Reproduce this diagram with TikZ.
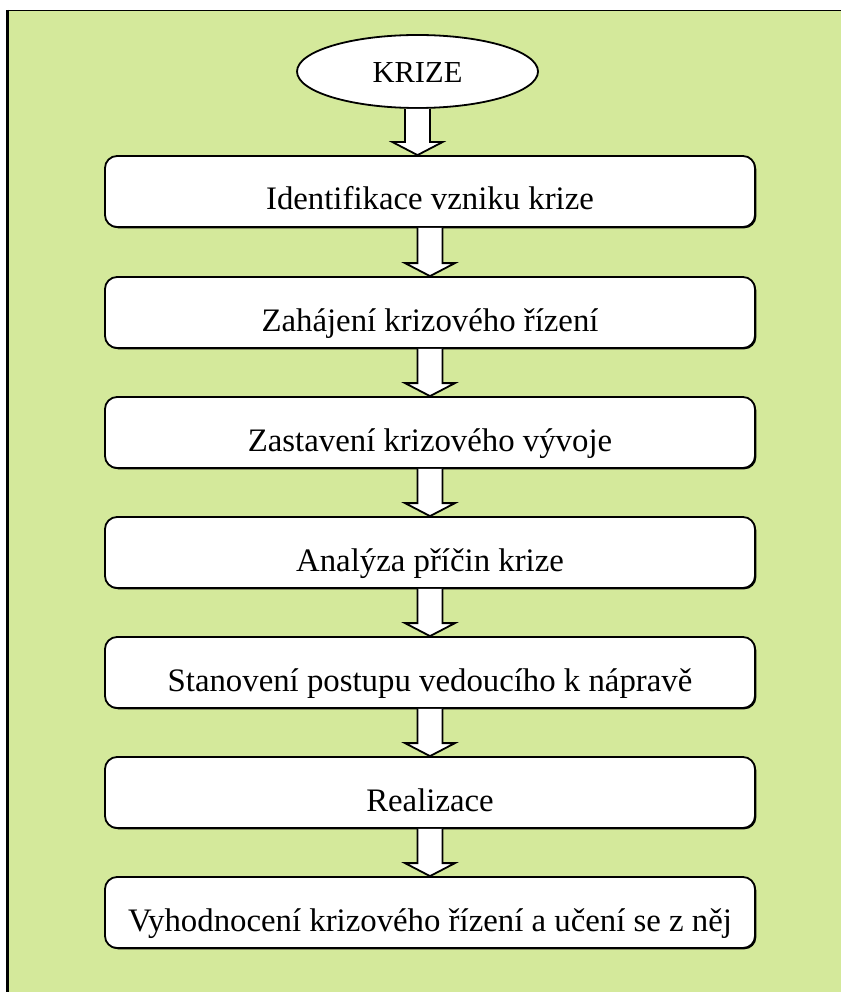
\documentclass[tikz,border=0pt]{standalone}
\usepackage{fontspec}
\setmainfont{Liberation Serif}
\usetikzlibrary{shapes.geometric,shadows,calc}

\definecolor{panelgreen}{RGB}{212,233,155}

\tikzset{
  stepbox/.style={draw=black, line width=1.8pt, fill=white, rounded corners=12pt,
    minimum width=650pt, minimum height=71pt, inner sep=0pt,
    text height=37pt, text depth=0pt,
    drop shadow={shadow xshift=1.3pt, shadow yshift=-1.3pt, fill=black, opacity=1},
    font=\fontsize{32.8}{38}\selectfont},
  startoval/.style={ellipse, draw=black, line width=1.8pt, fill=white,
    minimum width=241pt, minimum height=73pt, inner sep=0pt,
    text height=23pt, text depth=0pt,
    font=\fontsize{30.5}{36}\selectfont},
  arrowbody/.style={fill=white, draw=black, line width=1.8pt, line join=miter},
}

% hollow block arrow from the bottom of #1 to the top of #2
\newcommand{\flowarrow}[2]{%
  \filldraw[arrowbody] let \p1=(#1.south), \p2=(#2.north) in
    (\x1-12.5pt,\y1) -- (\x1-12.5pt,\y2+13pt) -- (\x1-25pt,\y2+13pt) -- (\x1,\y2)
    -- (\x1+25pt,\y2+13pt) -- (\x1+12.5pt,\y2+13pt) -- (\x1+12.5pt,\y1);}

\begin{document}
\begin{tikzpicture}[x=1pt, y=-1pt]
  \useasboundingbox (0,0) rectangle (841,992);

  % green panel with its frame
  \fill[panelgreen] (7.5,10.5) rectangle (841,992);
  \draw[line width=1.5pt] (7.5,10.5) -- (841,10.5);
  \draw[line width=2.6pt] (7.5,10) -- (7.5,992);

  % start of the process
  \node[startoval] (krize) at (417.5,71.5) {KRIZE};

  % process steps
  \node[stepbox] (s1) at (430,191.5) {Identifikace vzniku krize};
  \node[stepbox] (s2) at (430,312.5) {Zahájení krizového řízení};
  \node[stepbox] (s3) at (430,432.5) {Zastavení krizového vývoje};
  \node[stepbox] (s4) at (430,552.5) {Analýza příčin krize};
  \node[stepbox] (s5) at (430,672.5) {Stanovení postupu vedoucího k nápravě};
  \node[stepbox] (s6) at (430,792.5) {Realizace};
  \node[stepbox] (s7) at (430,912.5) {Vyhodnocení krizového řízení a učení se z něj};

  % block arrows between the stages
  \flowarrow{krize}{s1}
  \flowarrow{s1}{s2}
  \flowarrow{s2}{s3}
  \flowarrow{s3}{s4}
  \flowarrow{s4}{s5}
  \flowarrow{s5}{s6}
  \flowarrow{s6}{s7}
\end{tikzpicture}
\end{document}
